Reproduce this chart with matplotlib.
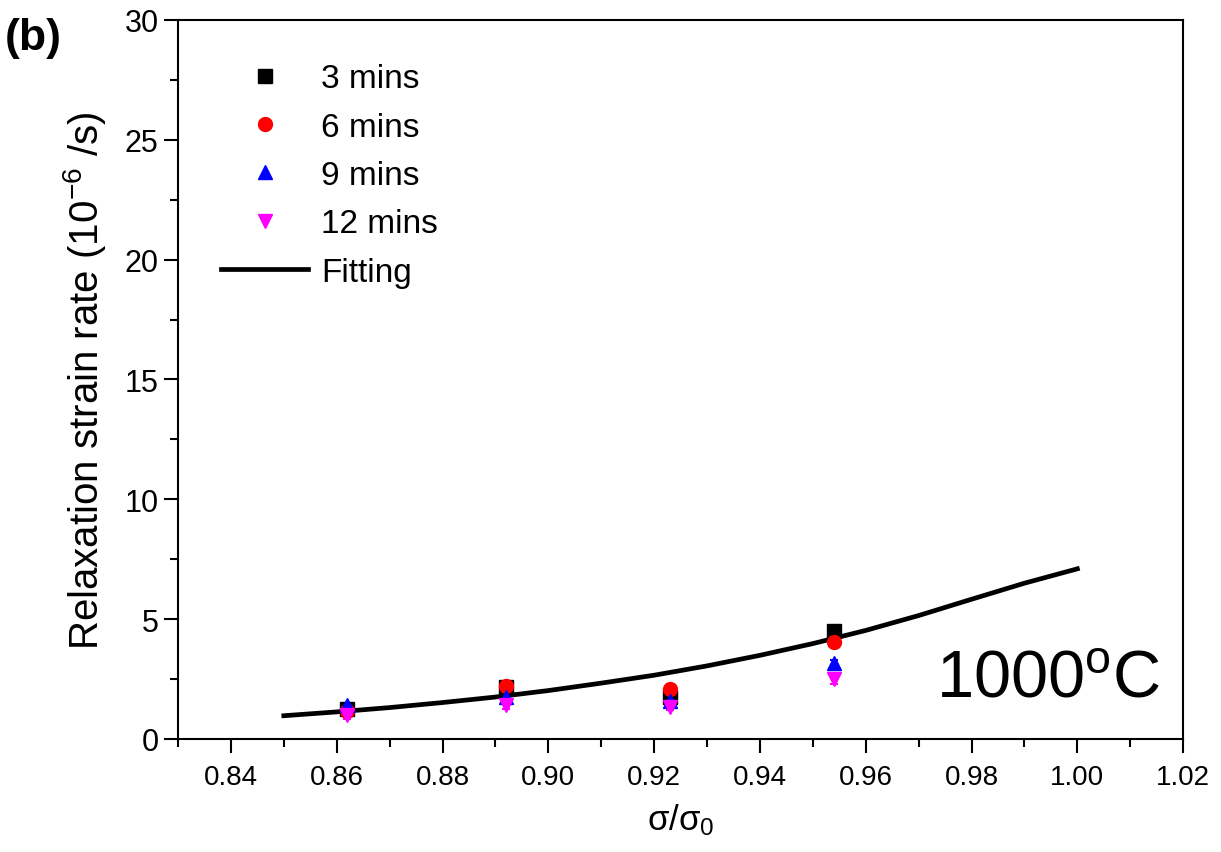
import matplotlib
matplotlib.use("Agg")
import matplotlib.pyplot as plt
from matplotlib.ticker import MultipleLocator, FormatStrFormatter
from matplotlib.lines import Line2D

plt.rcParams['font.family'] = ['Liberation Sans', 'DejaVu Sans']
plt.rcParams['mathtext.fontset'] = 'custom'
plt.rcParams['mathtext.rm'] = 'Liberation Sans'
plt.rcParams['mathtext.it'] = 'Liberation Sans'

# ---- data ----
x_stress = [0.862, 0.892, 0.923, 0.954]
rate_3min = [1.25, 2.15, 1.75, 4.5]
rate_6min = [1.15, 2.2, 2.1, 4.05]
rate_9min = [1.4, 1.75, 1.6, 3.15]
rate_12min = [0.98, 1.4, 1.35, 2.5]
err_3min = [0.12, 0.12, 0.12, 0.15]
err_6min = [0.12, 0.12, 0.12, 0.15]
err_9min = [0.12, 0.12, 0.12, 0.15]
err_12min = [0.15, 0.15, 0.15, 0.2]

fit_x = [0.85, 0.86, 0.87, 0.88, 0.89, 0.90, 0.91, 0.92, 0.93, 0.94,
         0.95, 0.96, 0.97, 0.98, 0.99, 1.00]
fit_y = [0.97, 1.13, 1.31, 1.52, 1.75, 2.02, 2.33, 2.66, 3.05, 3.49,
         3.98, 4.53, 5.15, 5.83, 6.50, 7.10]

series_labels = ["3 mins", "6 mins", "9 mins", "12 mins"]

# ---- figure ----
fig = plt.figure(figsize=(12.21, 8.53), dpi=100)
ax = fig.add_axes([0.1458, 0.1325, 0.8232, 0.8429])

fitline, = ax.plot(fit_x, fit_y, color='black', lw=3.4, zorder=3, label='Fitting')

styles = [('s', 'black'), ('o', 'red'), ('^', 'blue'), ('v', 'magenta')]
data = [(rate_3min, err_3min), (rate_6min, err_6min),
        (rate_9min, err_9min), (rate_12min, err_12min)]
handles = []
for (y, e), (m, c), lab in zip(data, styles, series_labels):
    ax.errorbar(x_stress, y, yerr=e, fmt=m, color=c, ms=10, mec=c,
                ecolor=c, elinewidth=1.5, capsize=3, capthick=1.5,
                zorder=4)
    handles.append(Line2D([], [], ls='none', marker=m, color=c, mec=c, ms=10))

ax.set_xlim(0.83, 1.02)
ax.set_ylim(0, 30)
ax.xaxis.set_major_locator(MultipleLocator(0.02))
ax.xaxis.set_minor_locator(MultipleLocator(0.01))
ax.xaxis.set_major_formatter(FormatStrFormatter('%.2f'))
ax.yaxis.set_major_locator(MultipleLocator(5))
ax.yaxis.set_minor_locator(MultipleLocator(2.5))

ax.tick_params(axis='both', which='major', direction='out', length=10, width=1.5)
ax.tick_params(axis='both', which='minor', direction='out', length=6, width=1.5)
ax.tick_params(axis='x', labelsize=20, pad=8)
ax.tick_params(axis='y', labelsize=22, pad=4)
for s in ax.spines.values():
    s.set_linewidth(1.5)

ax.set_xlabel(r'$\sigma/\sigma_0$', fontsize=25, labelpad=8)
ax.set_ylabel(r'Relaxation strain rate (10$^{-6}$ /s)', fontsize=29, labelpad=12)

leg = ax.legend(handles + [fitline], series_labels + ['Fitting'],
                loc='upper left', bbox_to_anchor=(0.0, 1.0), frameon=False,
                fontsize=24, handlelength=2.6, handletextpad=0.4,
                labelspacing=0.52, borderaxespad=0.9, numpoints=1)

ax.text(0.977, 0.04, '1000$^{\\rm o}$C', transform=ax.transAxes,
        fontsize=48, ha='right', va='bottom')

fig.text(0.004, 0.955, '(b)', fontsize=32, fontweight='bold', ha='left', va='center')

fig.savefig('out.png', dpi=100)
